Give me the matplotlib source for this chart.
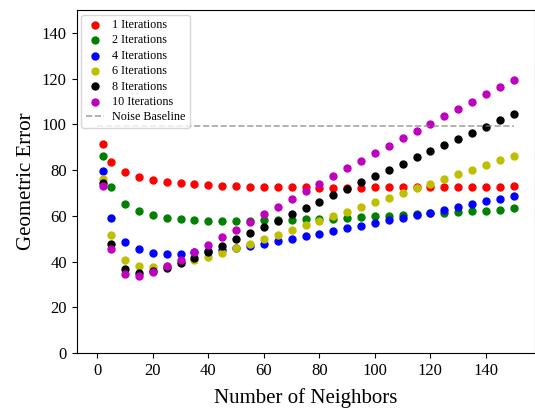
import matplotlib
matplotlib.use("Agg")
import matplotlib.pyplot as plt

plt.rcParams['font.family'] = ['Liberation Serif', 'DejaVu Serif']
plt.rcParams['mathtext.fontset'] = 'stix'

neighbors = [2] + list(range(5, 151, 5))

iter_1 = [91.5, 83.5, 79.1, 76.9, 75.7, 74.9, 74.3, 73.8, 73.4, 73.1, 72.9, 72.8,
          72.7, 72.6, 72.5, 72.4, 72.3, 72.3, 72.3, 72.3, 72.4, 72.4, 72.4, 72.5,
          72.5, 72.6, 72.6, 72.7, 72.7, 72.8, 72.9]
iter_2 = [86.1, 72.4, 65.0, 62.0, 60.2, 59.2, 58.5, 58.0, 57.9, 57.8, 57.8, 57.9,
          58.0, 58.1, 58.2, 58.4, 58.5, 58.8, 59.2, 59.5, 59.8, 60.1, 60.4, 60.8,
          61.2, 61.4, 61.7, 62.0, 62.3, 62.7, 63.2]
iter_4 = [79.4, 58.9, 48.7, 45.3, 43.9, 43.4, 43.4, 44.0, 44.4, 45.0, 46.1, 46.9,
          47.8, 48.8, 49.9, 51.0, 52.2, 53.4, 54.5, 55.7, 56.9, 58.0, 59.2, 60.4,
          61.4, 62.7, 64.0, 65.2, 66.4, 67.5, 68.7]
iter_6 = [76.0, 51.8, 40.6, 38.0, 37.7, 37.9, 39.6, 40.6, 42.2, 43.9, 45.9, 47.8,
          49.7, 51.8, 53.6, 55.8, 57.7, 59.8, 61.8, 63.9, 65.9, 68.0, 70.0, 72.2,
          74.0, 76.2, 78.1, 80.1, 82.2, 84.2, 86.3]
iter_8 = [74.3, 47.8, 36.8, 35.0, 36.0, 37.3, 39.2, 41.7, 44.3, 46.9, 49.7, 52.3,
          55.1, 57.9, 60.7, 63.4, 66.2, 68.9, 71.8, 74.6, 77.2, 80.1, 82.7, 85.5,
          88.2, 90.9, 93.6, 96.4, 99.0, 101.8, 104.4]
iter_10 = [72.9, 45.5, 34.6, 33.8, 35.5, 37.9, 40.8, 44.0, 47.2, 50.6, 53.9, 57.5,
           60.7, 64.0, 67.4, 70.8, 74.1, 77.5, 80.7, 84.1, 87.3, 90.6, 93.9, 97.1,
           100.3, 103.5, 106.7, 109.9, 113.2, 116.4, 119.6]

series = [
    ("1 Iterations", iter_1, 'r'),
    ("2 Iterations", iter_2, 'g'),
    ("4 Iterations", iter_4, 'b'),
    ("6 Iterations", iter_6, 'y'),
    ("8 Iterations", iter_8, 'k'),
    ("10 Iterations", iter_10, 'm'),
]

baseline_x = [0, 150]
baseline_value = 99.4

fig = plt.figure(figsize=(5.35, 4.08), dpi=100)
ax = fig.add_axes([76.5 / 535, 1 - 353 / 408, (534.5 - 76.5) / 535, (353 - 10) / 408])

for label, vals, col in series:
    ax.scatter(neighbors, vals, c=col, s=25, label=label)

ax.plot(baseline_x, [baseline_value] * len(baseline_x), '--', color='gray',
        alpha=0.7, linewidth=1.2, label="Noise Baseline")

ax.set_ylim(0, 150)
ax.set_yticks(range(0, 141, 20))
ax.set_xticks(range(0, 141, 20))
ax.tick_params(labelsize=12)
ax.set_xlabel("Number of Neighbors", fontsize=15, labelpad=7)
ax.set_ylabel("Geometric Error", fontsize=15)
ax.legend(loc='upper left', fontsize=8.7, labelspacing=0.28, borderpad=0.35,
          handlelength=1.5, handletextpad=0.7, borderaxespad=0.4)

fig.savefig("out.png", dpi=100)
